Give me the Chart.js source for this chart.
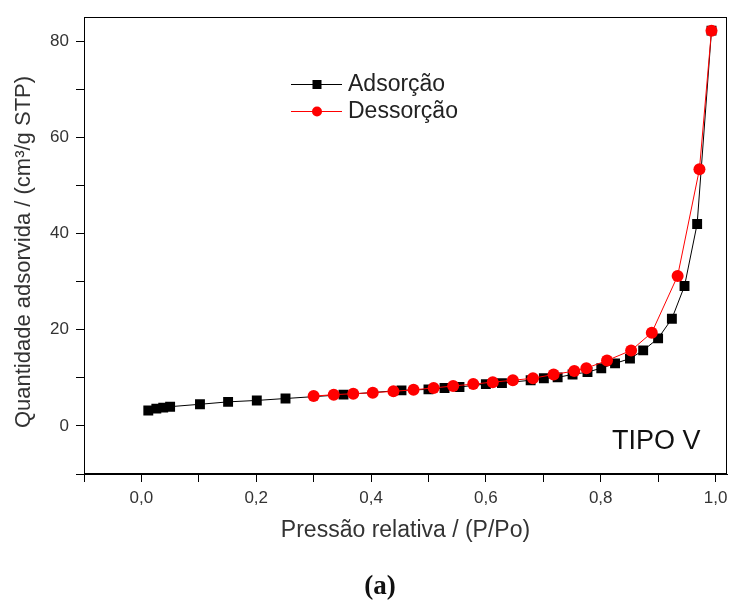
<!DOCTYPE html>
<html><head><meta charset="utf-8">
<script src="https://cdn.jsdelivr.net/npm/chart.js@4.4.1/dist/chart.umd.min.js"></script>
<style>html,body{margin:0;padding:0;background:#fff;} #wrap{position:relative;width:734px;height:601px;}</style>
</head><body><div id="wrap"><canvas id="c" width="734" height="601"></canvas></div>
<script>
// Adsorção (black squares)
const adsP = [0.012, 0.026, 0.038, 0.050, 0.102, 0.151, 0.201, 0.251, 0.352, 0.453, 0.500, 0.528, 0.554, 0.600, 0.628, 0.678, 0.701, 0.725, 0.751, 0.777, 0.801, 0.825, 0.851, 0.874, 0.900, 0.924, 0.946, 0.968, 0.993];
const adsQ = [3.2, 3.6, 3.8, 4.0, 4.5, 5.0, 5.3, 5.7, 6.5, 7.4, 7.6, 7.9, 8.1, 8.7, 8.9, 9.5, 9.9, 10.1, 10.7, 11.2, 12.0, 13.0, 14.0, 15.7, 18.2, 22.3, 29.1, 42.0, 82.2];
// Dessorção (red circles)
const desP = [0.300, 0.335, 0.369, 0.403, 0.439, 0.474, 0.509, 0.543, 0.578, 0.612, 0.647, 0.682, 0.718, 0.754, 0.775, 0.811, 0.853, 0.889, 0.934, 0.972, 0.993];
const desQ = [6.2, 6.5, 6.7, 6.9, 7.2, 7.5, 7.9, 8.3, 8.7, 9.1, 9.5, 9.9, 10.7, 11.4, 12.0, 13.6, 15.7, 19.4, 31.2, 53.4, 82.2];
const seriesNames = ['Adsorção', 'Dessorção'];
const xTitle = 'Pressão relativa / (P/Po)';
const yTitle = 'Quantidade adsorvida / (cm³/g STP)';
const annotation = 'TIPO V';
const caption = '(a)';

const FAM = '"Liberation Sans", Arial, sans-serif';
const toPts = (xs, ys) => xs.map((x, i) => ({x: x, y: ys[i]}));

const overlay = {
  id: 'overlay',
  afterDraw(chart) {
    const ctx = chart.ctx, a = chart.chartArea;
    ctx.save();
    // frame
    ctx.strokeStyle = '#000'; ctx.lineWidth = 1;
    ctx.strokeRect(Math.round(a.left) + 0.5, Math.round(a.top) + 0.5, Math.round(a.right - a.left) - 1, Math.round(a.bottom - a.top) - 1);
    // y title
    ctx.save();
    ctx.translate(24, 252);
    ctx.rotate(-Math.PI / 2);
    ctx.fillStyle = '#333';
    ctx.font = '22px ' + FAM;
    ctx.textAlign = 'center'; ctx.textBaseline = 'middle';
    ctx.fillText(yTitle, 0, 0);
    ctx.restore();
    // legend
    const lx0 = 291, lx1 = 342, lm = 317, tx = 348;
    const rows = [{y: 84, c: '#000', shape: 'sq'}, {y: 111, c: '#ff0000', shape: 'ci'}];
    rows.forEach((r, i) => {
      ctx.strokeStyle = r.c; ctx.lineWidth = 1;
      ctx.beginPath(); ctx.moveTo(lx0, r.y + 0.5); ctx.lineTo(lx1, r.y + 0.5); ctx.stroke();
      ctx.fillStyle = r.c;
      if (r.shape === 'sq') { ctx.fillRect(lm - 4.5, r.y - 4, 9, 9); }
      else { ctx.beginPath(); ctx.arc(lm, r.y + 0.5, 5, 0, Math.PI * 2); ctx.fill(); }
      ctx.fillStyle = '#222';
      ctx.font = '23px ' + FAM;
      ctx.textBaseline = 'middle'; ctx.textAlign = 'left';
      ctx.fillText(seriesNames[i], tx, r.y + 1);
    });
    // annotation
    ctx.fillStyle = '#111';
    ctx.font = '27px ' + FAM;
    ctx.fillText(annotation, 612, 442);
    // caption
    ctx.font = 'bold 27px "Liberation Serif", "Times New Roman", serif';
    ctx.textAlign = 'center';
    ctx.fillText(caption, 380, 587);
    ctx.restore();
  }
};

new Chart(document.getElementById('c'), {
  type: 'scatter',
  data: {
    datasets: [
      {label: seriesNames[0], data: toPts(adsP, adsQ), showLine: true, borderColor: '#000', borderWidth: 1,
       backgroundColor: '#000', pointStyle: 'rect', pointRadius: 7, pointBorderWidth: 0, order: 2},
      {label: seriesNames[1], data: toPts(desP, desQ), showLine: true, borderColor: '#ff0000', borderWidth: 1,
       backgroundColor: '#ff0000', pointStyle: 'circle', pointRadius: 6, pointBorderWidth: 0, order: 1}
    ]
  },
  options: {
    responsive: false, animation: false, devicePixelRatio: 1,
    layout: {padding: {top: 13, right: 2, left: 0, bottom: 0}},
    plugins: {legend: {display: false}, tooltip: {enabled: false}},
    scales: {
      x: {
        type: 'linear', min: -0.1, max: 1.02,
        ticks: {stepSize: 0.1, includeBounds: false, autoSkip: false, maxRotation: 0, color: '#333', padding: 6,
          font: {size: 17, family: FAM},
          callback: v => { const k = Math.round(v * 10); return (k >= 0 && k % 2 === 0) ? (k / 10).toFixed(1).replace('.', ',') : ''; }},
        grid: {drawOnChartArea: false, drawTicks: true, tickLength: 8, color: '#000', tickColor: '#000'},
        border: {display: true, color: '#000', width: 1},
        title: {display: true, text: xTitle, color: '#333', font: {size: 23, family: FAM}, padding: {top: 0, bottom: 57}},
        afterFit: s => { s.height = 127; }
      },
      y: {
        type: 'linear', min: -10, max: 85,
        ticks: {stepSize: 10, includeBounds: false, autoSkip: false, color: '#333', padding: 7,
          font: {size: 17, family: FAM},
          callback: v => (Math.round(v) % 20 === 0) ? String(Math.round(v)) : ''},
        grid: {drawOnChartArea: false, drawTicks: true, tickLength: 8, color: '#000', tickColor: '#000'},
        border: {display: true, color: '#000', width: 1},
        title: {display: false},
        afterFit: s => { s.width = 84; }
      }
    }
  },
  plugins: [overlay]
});
</script>
</body></html>
